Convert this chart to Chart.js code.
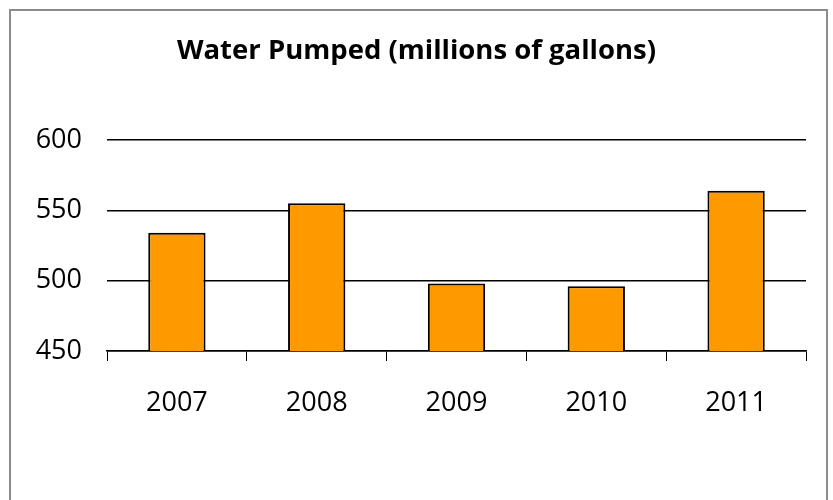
<!DOCTYPE html>
<html>
<head>
<meta charset="utf-8">
<script src="https://cdn.jsdelivr.net/npm/chart.js@4/dist/chart.umd.min.js"></script>
<style>
  html, body { margin: 0; padding: 0; background: #fff; }
  #wrap { width: 833px; height: 500px; position: relative; }
</style>
</head>
<body>
<div id="wrap"><canvas id="chart"></canvas></div>
<script>
const years = ['2007', '2008', '2009', '2010', '2011']
const waterPumped = [534, 555, 498, 496, 564]
const yTicks = [450, 500, 550, 600]

// grey frame round the whole chart, like the spreadsheet export
const frame = {
  id: 'frame',
  beforeDraw(chart) {
    const ctx = chart.ctx
    ctx.save()
    ctx.strokeStyle = '#8c8c8c'
    ctx.lineWidth = 2
    ctx.strokeRect(10, 10, 817, 520)
    ctx.restore()
  }
}

new Chart(document.getElementById('chart'), {
  type: 'bar',
  data: {
    labels: years,
    datasets: [{
      label: 'Water Pumped',
      data: waterPumped,
      backgroundColor: '#ff9900',
      borderColor: '#000',
      borderWidth: 2,
      categoryPercentage: 1,
      barPercentage: 0.41
    }]
  },
  options: {
    responsive: true,
    maintainAspectRatio: false,
    animation: false,
    layout: { padding: { left: 27, right: 27, top: 0, bottom: 0 } },
    plugins: {
      legend: { display: false },
      tooltip: { enabled: false },
      title: {
        display: true,
        text: 'Water Pumped (millions of gallons)',
        color: '#000',
        font: { family: 'Open Sans', size: 27.5, weight: 'bold' },
        padding: { top: 35, bottom: 72 }
      }
    },
    scales: {
      x: {
        grid: { display: true, drawOnChartArea: false, color: '#000', tickLength: 10, offset: true },
        border: { display: true, color: '#000', width: 1.5 },
        ticks: { color: '#000', padding: 26, font: { family: 'Open Sans', size: 27 } },
        afterFit(scale) { scale.height = 149 }
      },
      y: {
        min: 450,
        max: 600,
        afterBuildTicks(scale) { scale.ticks = yTicks.map(v => ({ value: v })) },
        grid: { color: '#000', lineWidth: 1.5, drawTicks: false },
        border: { display: false },
        ticks: { color: '#000', padding: 25, font: { family: 'Open Sans', size: 27 } },
        afterFit(scale) { scale.width = 80 }
      }
    }
  },
  plugins: [frame]
})
</script>
</body>
</html>
